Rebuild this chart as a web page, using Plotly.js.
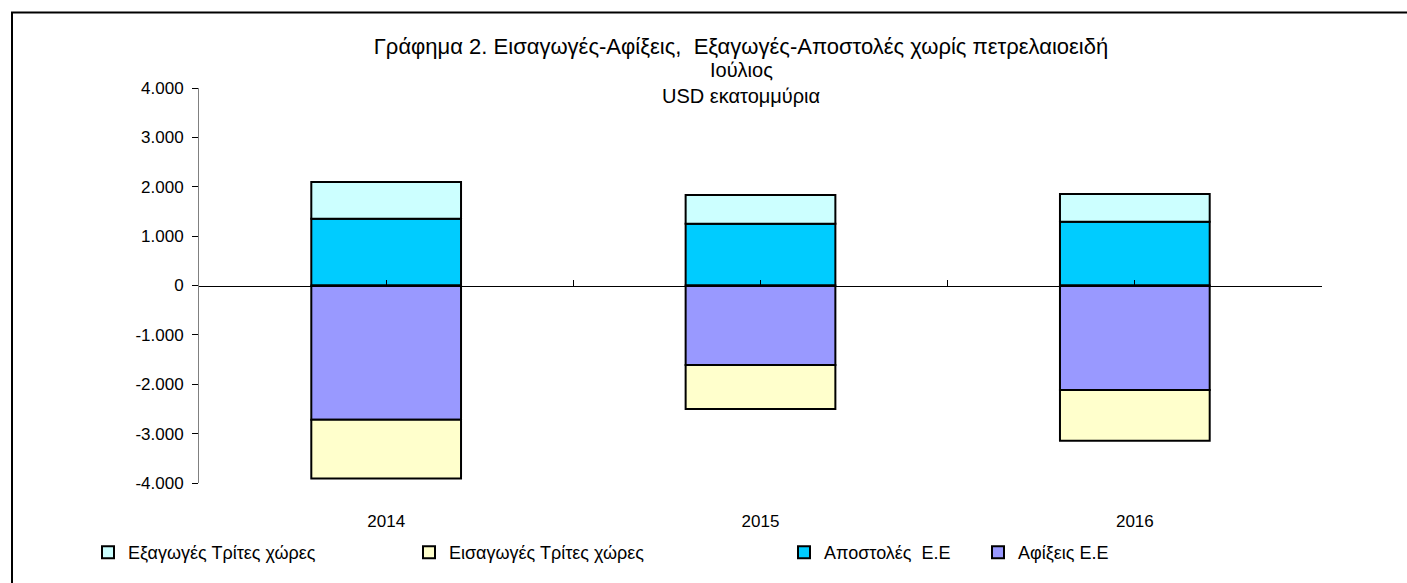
<!DOCTYPE html>
<html>
<head>
<meta charset="utf-8">
<script src="https://cdn.plot.ly/plotly-3.0.1.min.js"></script>
<style>
html,body{margin:0;padding:0;background:#fff;}
#chart{width:1407px;height:583px;}
</style>
</head>
<body>
<div id="chart"></div>
<script>
// ---- data ----
const categories = ['2014', '2015', '2016'];
const exportsThird = [745, 585, 565];        // Εξαγωγές Τρίτες χώρες
const importsThird = [-1190, -890, -1030];   // Εισαγωγές Τρίτες χώρες
const dispatchesEU = [1350, 1250, 1290];     // Αποστολές  Ε.Ε
const arrivalsEU = [-2720, -1610, -2115];    // Αφίξεις Ε.Ε
const yTickVals = [-4000, -3000, -2000, -1000, 0, 1000, 2000, 3000, 4000];
const yTickText = ['-4.000', '-3.000', '-2.000', '-1.000', '0', '1.000', '2.000', '3.000', '4.000'];
const titleMain = 'Γράφημα 2. Εισαγωγές-Αφίξεις,  Εξαγωγές-Αποστολές χωρίς πετρελαιοειδή';
const subtitleLines = ['Ιούλιος', 'USD εκατομμύρια'];

// ---- layout helpers ----
const W = 1407, H = 583;
const M = {l: 199, r: 85, t: 88, b: 98};
const PW = W - M.l - M.r, PH = H - M.t - M.b;
const px = x => (x - M.l) / PW;
const py = y => (H - M.b - y) / PH;

const FONT = 'Liberation Sans, Arial, sans-serif';
const outline = {color: '#000000', width: 2};

function barTrace(name, values, color, legendId) {
  return {
    type: 'bar', name: name, x: categories, y: values,
    marker: {color: color, line: outline},
    legend: legendId, hoverinfo: 'name+y'
  };
}

const traces = [
  barTrace('Αποστολές  Ε.Ε', dispatchesEU, '#00CCFF', 'legend3'),
  barTrace('Εξαγωγές Τρίτες χώρες', exportsThird, '#CCFFFF', 'legend'),
  barTrace('Αφίξεις Ε.Ε', arrivalsEU, '#9999FF', 'legend4'),
  barTrace('Εισαγωγές Τρίτες χώρες', importsThird, '#FFFFCC', 'legend2')
];

const legendBase = (xpix) => ({
  x: px(xpix), xanchor: 'left', y: py(555), yanchor: 'middle',
  orientation: 'h', bgcolor: 'rgba(0,0,0,0)', borderwidth: 0,
  font: {family: FONT, size: 18, color: '#000'}
});

const boundaries = [];
for (let i = 0; i <= categories.length; i++) boundaries.push(i - 0.5);
for (let i = 0; i < categories.length; i++) boundaries.push(i);

const subtitleY = [70, 96];
const annotations = subtitleLines.map((t, i) => ({
  text: t, xref: 'paper', yref: 'paper', x: px(741), y: py(subtitleY[i]),
  xanchor: 'center', yanchor: 'middle', showarrow: false,
  font: {family: FONT, size: 20, color: '#000'}
}));

const layout = {
  width: W, height: H,
  margin: M,
  paper_bgcolor: '#ffffff', plot_bgcolor: '#ffffff',
  font: {family: FONT, size: 16, color: '#000'},
  barmode: 'relative',
  bargap: 0.6,
  title: {
    text: titleMain,
    x: 741 / W, xref: 'container', xanchor: 'center',
    y: 1 - 46 / H, yref: 'container', yanchor: 'middle',
    font: {family: FONT, size: 22, color: '#000'}
  },
  annotations: annotations,
  xaxis: {
    type: 'category',
    showline: false, showgrid: false, zeroline: false,
    ticks: 'outside', ticklen: 23, tickcolor: 'rgba(0,0,0,0)',
    tickfont: {family: FONT, size: 17, color: '#000'},
    fixedrange: true
  },
  xaxis2: {
    overlaying: 'x', anchor: 'free', position: 0.5,
    range: [-0.5, categories.length - 0.5],
    showline: true, linecolor: '#000', linewidth: 1,
    ticks: 'inside', ticklen: 6, tickcolor: '#000', tickwidth: 1,
    tickmode: 'array', tickvals: boundaries,
    showticklabels: false, showgrid: false, zeroline: false,
    layer: 'above traces'
  },
  yaxis: {
    range: [-4000, 4000],
    tickmode: 'array', tickvals: yTickVals, ticktext: yTickText,
    showline: true, linecolor: '#808080', linewidth: 1,
    ticks: 'outside', ticklen: 6, tickcolor: '#000',
    ticklabelstandoff: 5,
    showgrid: false, zeroline: false,
    tickfont: {family: FONT, size: 17, color: '#000'},
    fixedrange: true
  },
  legend: legendBase(88),
  legend2: legendBase(409),
  legend3: legendBase(784),
  legend4: legendBase(978),
  shapes: [{
    type: 'rect', xref: 'paper', yref: 'paper',
    x0: px(12), x1: px(W + 20), y0: py(H + 20), y1: py(12),
    line: {color: '#000', width: 2}, fillcolor: 'rgba(0,0,0,0)', layer: 'below'
  }]
};

// invisible helper trace so the zero-line category axis (xaxis2) is drawn
traces.push({type: 'scatter', x: [0], y: [0], xaxis: 'x2', yaxis: 'y', mode: 'markers',
  marker: {opacity: 0}, showlegend: false, hoverinfo: 'skip'});

Plotly.newPlot('chart', traces, layout, {displayModeBar: false, staticPlot: true});
</script>
</body>
</html>
